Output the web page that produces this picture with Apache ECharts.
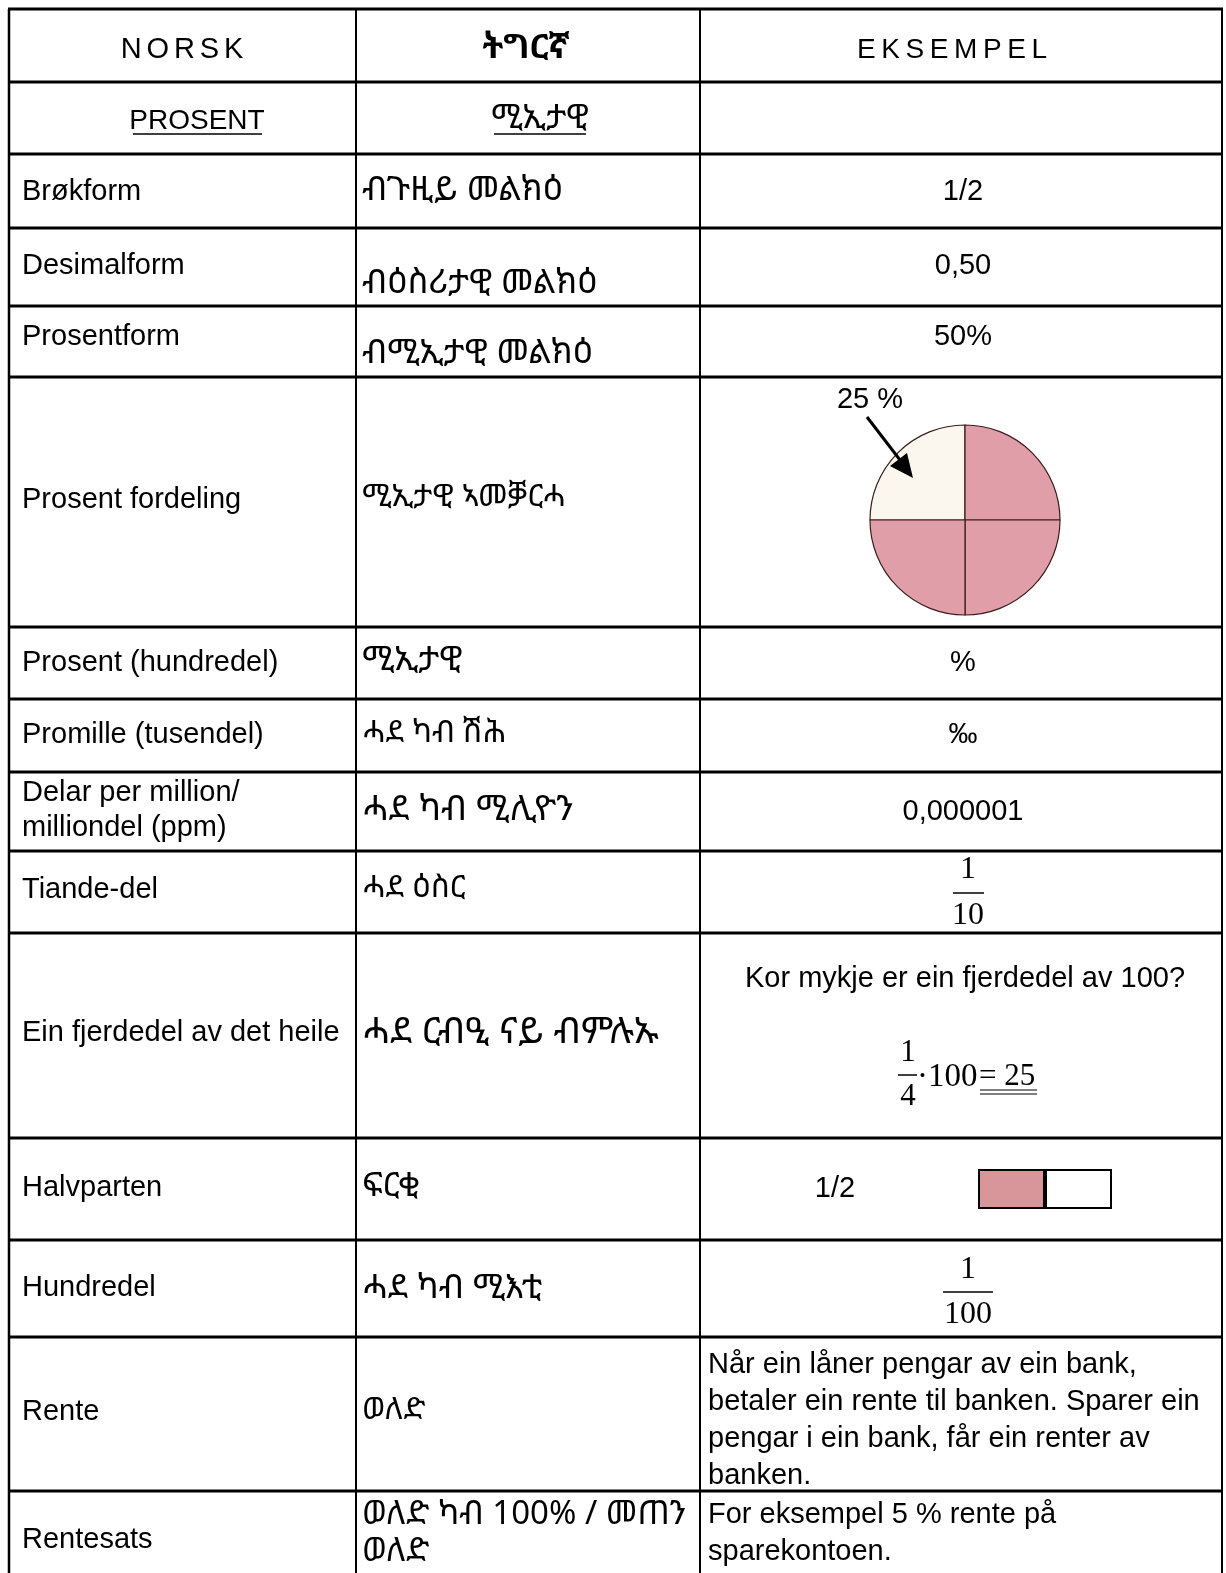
<!DOCTYPE html>
<html>
<head>
<meta charset="utf-8">
<script src="https://cdn.jsdelivr.net/npm/echarts@6/dist/echarts.min.js"></script>
<style>
html,body{margin:0;padding:0;background:#fff;}
#chart{width:1226px;height:1573px;}
</style>
</head>
<body>
<div id="chart"></div>
<script>
// ---------- DATA ----------
const headers = ['NORSK', 'ትግርኛ', 'EKSEMPEL'];
const sectionTitles = ['PROSENT', 'ሚኢታዊ'];
const norskTerms = [
  'Brøkform', 'Desimalform', 'Prosentform', 'Prosent fordeling',
  'Prosent (hundredel)', 'Promille (tusendel)', 'Delar per million/\nmilliondel (ppm)',
  'Tiande-del', 'Ein fjerdedel av det heile', 'Halvparten', 'Hundredel', 'Rente', 'Rentesats'
];
const tigrinyaTerms = [
  'ብጉዚይ መልክዕ', 'ብዕስሪታዊ መልክዕ', 'ብሚኢታዊ መልክዕ', 'ሚኢታዊ ኣመቓርሓ',
  'ሚኢታዊ', 'ሓደ ካብ ሽሕ', 'ሓደ ካብ ሚሊዮን',
  'ሓደ ዕስር', 'ሓደ ርብዒ ናይ ብምሉኡ', 'ፍርቂ', 'ሓደ ካብ ሚእቲ', 'ወለድ', 'ወለድ ካብ 100% / መጠን\nወለድ'
];
const simpleExamples = ['1/2', '0,50', '50%', '%', '‰', '0,000001'];
const pieLabel = '25 %';
const pieNames = ['25 %', '25 % b', '25 % c', '25 % d'];
const pieValues = [25, 25, 25, 25];
const tiendeFraction = ['1', '10'];
const quarterQuestion = 'Kor mykje er ein fjerdedel av 100?';
const quarterFormula = ['1', '4', '·100', '= 25'];
const halfLabel = '1/2';
const halfValues = [0.5, 0.5];
const hundredFraction = ['1', '100'];
const renteText = ['Når ein låner pengar av ein bank,', 'betaler ein rente til banken. Sparer ein', 'pengar i ein bank, får ein renter av', 'banken.'];
const rentesatsText = ['For eksempel 5 % rente på', 'sparekontoen.'];

// ---------- LAYOUT ----------
const colX = [9, 356, 700, 1222];
const rowY = [9, 82, 154, 228, 306, 377, 627, 699, 772, 851, 933, 1138, 1240, 1337, 1491, 1580];
const norskY = [192, 266, 337, 500, 663, 735, 810, 890, 1033, 1188, 1288, 1412, 1540];
const tigY = [190, 283, 353, 497, 660, 733, 810, 888, 1032, 1187, 1288, 1410, 1533];
const tigSize = [34, 34, 34, 31, 34, 31, 35, 31, 37, 33, 34, 31, 33];
const simpleExY = [192, 266, 337, 663, 735, 812];
const exCX = 963;

const SANS = '"Liberation Sans", Arial, Helvetica, sans-serif';
const ETH = '"Noto Sans Ethiopic", "Abyssinica SIL", "DejaVu Sans", "Noto Sans", sans-serif';
const SERIF = '"Liberation Serif", "Times New Roman", serif';

const g = [];
function txt(x, y, s, o) {
  o = o || {};
  g.push({
    type: 'text', x: x, y: y, z: 10,
    style: {
      text: s, fill: '#000',
      font: (o.weight || 'normal') + ' ' + (o.size || 29) + 'px ' + (o.family || SANS),
      textAlign: o.align || 'left', textVerticalAlign: 'middle',
      lineHeight: o.lh || 35
    }
  });
}
function line(x1, y1, x2, y2, w) {
  g.push({ type: 'line', z: 20, shape: { x1: x1, y1: y1, x2: x2, y2: y2 }, style: { stroke: '#000', lineWidth: w } });
}

// grid lines
rowY.forEach(function (y) { line(colX[0] - 1, y, colX[3] + 1, y, 3); });
colX.forEach(function (x, i) { line(x, rowY[0], x, rowY[rowY.length - 1], i === 0 ? 2.5 : 2); });

// headers
const spaced = function (s, sp) { return s.split('').join(sp); };
txt(182, 50, spaced(headers[0], '\u200A\u200A'), { align: 'center', size: 29 });
txt(526, 48, headers[1], { align: 'center', family: ETH, size: 34, weight: 'bold' });
txt(952, 50, spaced(headers[2], '\u2009'), { align: 'center', size: 28 });
// section titles with underline
txt(197, 121, sectionTitles[0], { align: 'center', size: 28 });
line(133, 134, 262, 134, 1.5);
txt(540, 119, sectionTitles[1], { align: 'center', family: ETH, size: 33 });
line(494, 134, 586, 134, 1.5);

// norsk column
norskTerms.forEach(function (t, i) {
  txt(22, norskY[i], t, { lh: 35 });
});
// tigrinya column
tigrinyaTerms.forEach(function (t, i) {
  txt(362, tigY[i], t, { family: ETH, size: tigSize[i], lh: 37 });
});
// simple examples
simpleExamples.forEach(function (t, i) {
  txt(exCX, simpleExY[i], t, { align: 'center' });
});

// pie label + arrow
txt(870, 400, pieLabel, { align: 'center', size: 29 });
line(867, 417, 900, 460, 3);
g.push({ type: 'polygon', z: 30, shape: { points: [[913, 478], [890, 466], [907, 453]] }, style: { fill: '#000' } });

// tiende fraction
txt(968, 870, tiendeFraction[0], { align: 'center', family: SERIF, size: 32 });
line(953, 893, 984, 893, 1.5);
txt(968, 916, tiendeFraction[1], { align: 'center', family: SERIF, size: 32 });

// quarter example
txt(exCX + 2, 979, quarterQuestion, { align: 'center' });
txt(908, 1053, quarterFormula[0], { align: 'center', family: SERIF, size: 31 });
line(898, 1075, 917, 1075, 1.5);
txt(908, 1097, quarterFormula[1], { align: 'center', family: SERIF, size: 31 });
txt(917, 1077, quarterFormula[2], { family: SERIF, size: 33 });
txt(979, 1077, quarterFormula[3], { family: SERIF, size: 31 });
line(980, 1090, 1037, 1090, 1.2);
line(980, 1094, 1037, 1094, 1.2);

// half example
txt(835, 1189, halfLabel, { align: 'center' });

// hundred fraction
txt(968, 1270, hundredFraction[0], { align: 'center', family: SERIF, size: 32 });
line(943, 1292, 993, 1292, 1.5);
txt(968, 1315, hundredFraction[1], { align: 'center', family: SERIF, size: 32 });

// rente texts
renteText.forEach(function (t, i) { txt(708, 1365 + i * 37, t); });
rentesatsText.forEach(function (t, i) { txt(708, 1515 + i * 37, t); });

const chart = echarts.init(document.getElementById('chart'), null, { renderer: 'canvas', width: 1226, height: 1573 });
chart.setOption({
  backgroundColor: '#fff',
  animation: false,
  grid: { left: 978, top: 1169, width: 134, height: 40, show: false },
  xAxis: { type: 'value', min: 0, max: 1, show: false },
  yAxis: { type: 'category', data: ['half'], show: false },
  series: [
    {
      type: 'pie', center: [965, 520], radius: 95, startAngle: 180, clockwise: true,
      label: { show: false }, labelLine: { show: false }, silent: true,
      itemStyle: { borderColor: '#3b1c1c', borderWidth: 1.2 },
      data: pieValues.map(function (v, i) {
        return { name: pieNames[i], value: v, itemStyle: { color: i === 0 ? '#fbf7ee' : '#e09fa8' } };
      })
    },
    {
      type: 'bar', stack: 'h', barWidth: '100%', data: [halfValues[0]],
      itemStyle: { color: '#d8959a', borderColor: '#000', borderWidth: 2 }
    },
    {
      type: 'bar', stack: 'h', barWidth: '100%', data: [halfValues[1]],
      itemStyle: { color: '#ffffff', borderColor: '#000', borderWidth: 2 }
    }
  ],
  graphic: g
});
</script>
</body>
</html>
